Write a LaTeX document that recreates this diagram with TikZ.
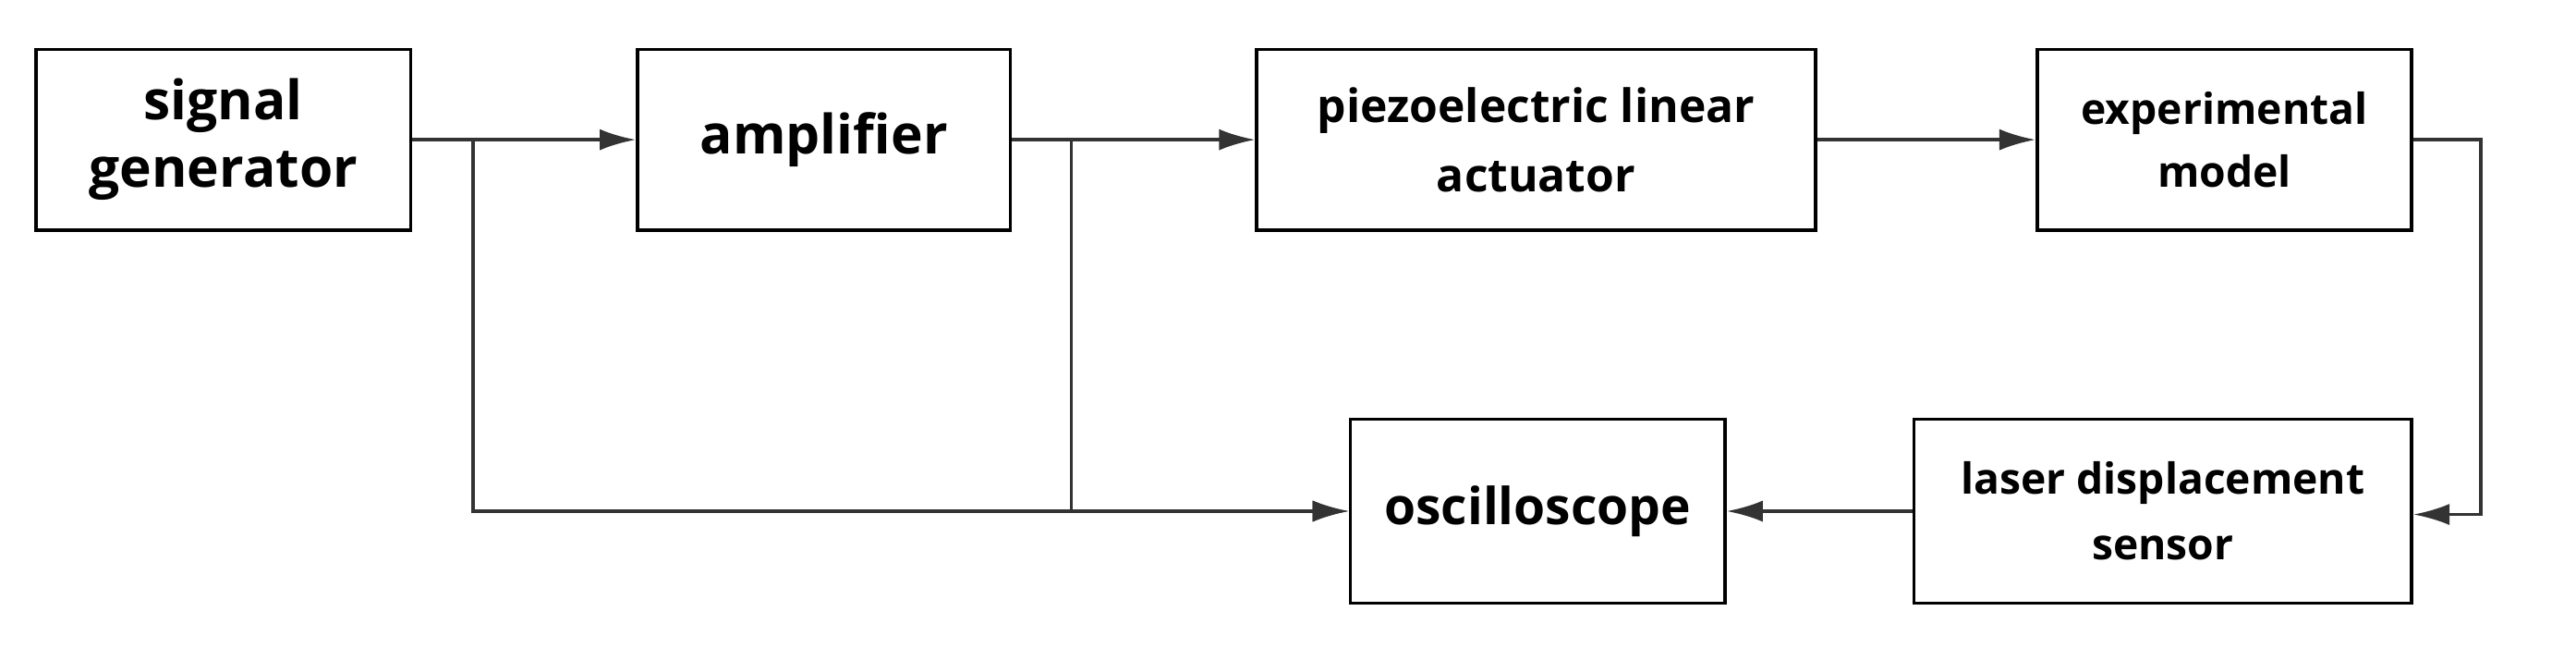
\documentclass[tikz,border=0pt]{standalone}
\usepackage{fontspec}
\setmainfont{Open Sans}
\usetikzlibrary{arrows.meta}
\begin{document}
\begin{tikzpicture}[x=1pt,y=-1pt,
  box/.style={draw,line width=2pt,align=center,inner sep=0pt,font=\fontsize{33}{41}\selectfont\bfseries},
  ln/.style={line width=2pt,draw=black!80},
  ar/.style={ln,-{Latex[length=22pt,width=13pt]}}]
\useasboundingbox (0,0) rectangle (1568,394);
\node[box,minimum width=228pt,minimum height=110pt] (sg) at (136,85) {signal\\generator};
\node[box,minimum width=227pt,minimum height=110pt] (amp) at (501.5,85) {amplifier};
\node[box,minimum width=340pt,minimum height=110pt,font=\fontsize{28}{42}\selectfont\bfseries] (pz) at (935,85) {piezoelectric linear\\actuator};
\node[box,minimum width=228pt,minimum height=110pt,font=\fontsize{26}{38}\selectfont\bfseries] (em) at (1354,85) {experimental\\model};
\node[box,minimum width=228pt,minimum height=112pt,font=\fontsize{31}{38}\selectfont\bfseries] (osc) at (936,311) {oscilloscope};
\node[box,minimum width=303pt,minimum height=112pt,font=\fontsize{26}{40}\selectfont\bfseries] (ls) at (1316.5,311) {laser displacement\\sensor};
\coordinate (b1) at (288,85);
\coordinate (b2) at (652,85);
\coordinate (c1) at (1510,85);
\coordinate (c2) at (1510,313);
\draw[ar] (sg.east) -- (amp.west);
\draw[ar] (amp.east) -- (pz.west);
\draw[ar] (pz.east) -- (em.west);
\draw[ar] (b1) |- (osc.west);
\draw[ar] (b2) |- (osc.west);
\draw[ar] (em.east) -- (c1) -- (c2) -- (ls.east |- c2);
\draw[ar] (ls.west) -- (osc.east);
\end{tikzpicture}
\end{document}
